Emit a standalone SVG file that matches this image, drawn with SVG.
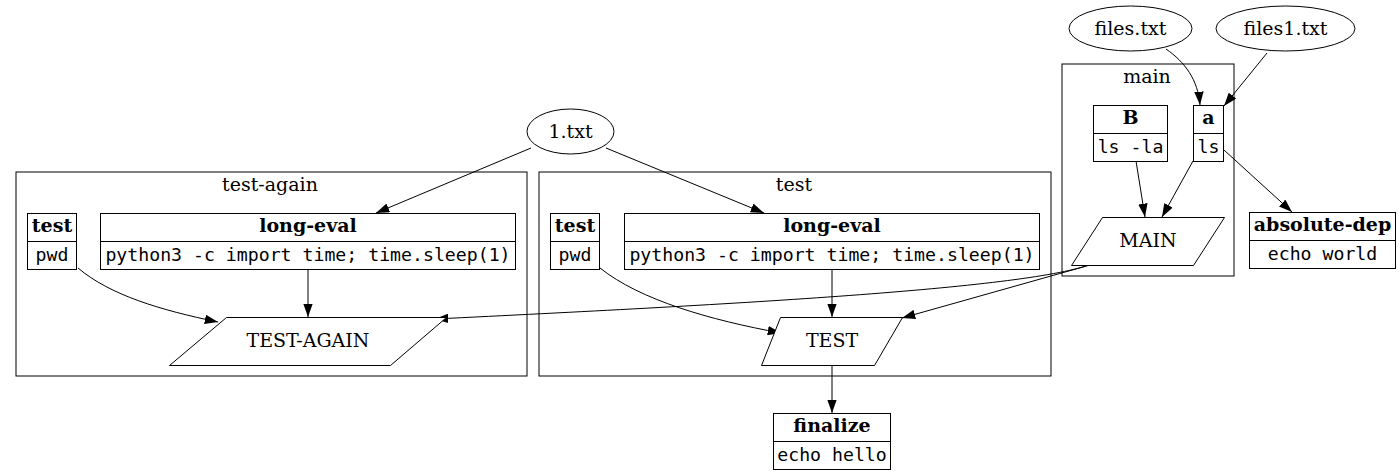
<svg xmlns="http://www.w3.org/2000/svg" width="1399" height="475" viewBox="0 0 1399 475">
<style>
.cl{fill:none;stroke:#000;stroke-width:1}
.nd{fill:#fff;stroke:#000;stroke-width:1}
.ln{fill:none;stroke:#000;stroke-width:1}
.e{fill:none;stroke:#000;stroke-width:1;marker-end:url(#ah)}
.s{font-family:"DejaVu Serif",serif;font-size:19px;text-anchor:middle;fill:#000}
.b{font-family:"DejaVu Serif",serif;font-size:19px;font-weight:bold;text-anchor:middle;fill:#000}
.m{font-family:"DejaVu Sans Mono",monospace;font-size:18.2px;text-anchor:middle;fill:#000}
</style>
<defs>
<marker id="ah" viewBox="0 0 13.3 9.4" refX="13.3" refY="4.7" markerWidth="13.3" markerHeight="9.4" markerUnits="userSpaceOnUse" orient="auto">
<path d="M0,0 L13.3,4.7 L0,9.4 Z" fill="#000"/>
</marker>
</defs>
<rect width="1399" height="475" fill="#fff"/>

<g id="cluster-test-again">
<rect class="cl" x="16" y="172" width="511" height="204"/>
<text class="s" x="270" y="191">test-again</text>
</g>
<g id="cluster-test">
<rect class="cl" x="539" y="172" width="512" height="204"/>
<text class="s" x="794" y="191">test</text>
</g>
<g id="cluster-main">
<rect class="cl" x="1062" y="64" width="172" height="212"/>
<text class="s" x="1147" y="83">main</text>
</g>

<g id="connectors">
<path class="e" d="M1166,49 C1185,62 1198,80 1200,105"/>
<path class="e" d="M1267,53 L1224,106"/>
<path class="e" d="M1136,161 L1145,217"/>
<path class="e" d="M1193,161 L1162,217"/>
<path class="e" d="M1224,150 L1292,212"/>
<path class="e" d="M1090,265 L902,318"/>
<path class="e" d="M1086,266 C1010,290 720,305 435,319"/>
<path class="e" d="M531,148 L376,213"/>
<path class="e" d="M606,148 L764,213"/>
<path class="e" d="M78,268 C110,295 160,310 218,322"/>
<path class="e" d="M308,269 L308,317"/>
<path class="e" d="M600,268 C640,300 710,320 781,333"/>
<path class="e" d="M832,269 L832,317"/>
<path class="e" d="M832,365 L832,413"/>
</g>

<g id="files-txt">
<ellipse class="nd" cx="1130.5" cy="28.5" rx="61.5" ry="22.5"/>
<text class="s" x="1130.5" y="35">files.txt</text>
</g>
<g id="files1-txt">
<ellipse class="nd" cx="1285.5" cy="28.5" rx="69.5" ry="22.5"/>
<text class="s" x="1285.5" y="35">files1.txt</text>
</g>
<g id="one-txt">
<ellipse class="nd" cx="570.5" cy="131.5" rx="43.5" ry="22.5"/>
<text class="s" x="570.5" y="138">1.txt</text>
</g>

<g id="main-B">
<rect class="nd" x="1093.5" y="105.5" width="74" height="56"/>
<line class="ln" x1="1093.5" y1="133.5" x2="1167.5" y2="133.5"/>
<text class="b" x="1130.5" y="124">B</text>
<text class="m" x="1130.5" y="153">ls -la</text>
</g>
<g id="main-a">
<rect class="nd" x="1193.5" y="105.5" width="30" height="56"/>
<line class="ln" x1="1193.5" y1="133.5" x2="1223.5" y2="133.5"/>
<text class="b" x="1208.5" y="124">a</text>
<text class="m" x="1208.5" y="153">ls</text>
</g>
<g id="MAIN">
<polygon class="nd" points="1102.5,217.5 1224.5,217.5 1193.5,265.5 1071.5,265.5"/>
<text class="s" x="1148" y="247">MAIN</text>
</g>
<g id="absolute-dep">
<rect class="nd" x="1249.5" y="212.5" width="146" height="56"/>
<line class="ln" x1="1249.5" y1="240.5" x2="1395.5" y2="240.5"/>
<text class="b" x="1322.5" y="231">absolute-dep</text>
<text class="m" x="1322.5" y="260">echo world</text>
</g>

<g id="test-again-test">
<rect class="nd" x="27.5" y="213.5" width="49" height="56"/>
<line class="ln" x1="27.5" y1="241.5" x2="76.5" y2="241.5"/>
<text class="b" x="52" y="232">test</text>
<text class="m" x="52" y="261">pwd</text>
</g>
<g id="test-again-long-eval">
<rect class="nd" x="100.5" y="213.5" width="415" height="56"/>
<line class="ln" x1="100.5" y1="241.5" x2="515.5" y2="241.5"/>
<text class="b" x="308" y="232">long-eval</text>
<text class="m" x="308" y="261">python3 -c import time; time.sleep(1)</text>
</g>
<g id="TEST-AGAIN">
<polygon class="nd" points="226.5,317.5 446.5,317.5 390.5,365.5 169.5,365.5"/>
<text class="s" x="308" y="347">TEST-AGAIN</text>
</g>

<g id="test-test">
<rect class="nd" x="550.5" y="213.5" width="49" height="56"/>
<line class="ln" x1="550.5" y1="241.5" x2="599.5" y2="241.5"/>
<text class="b" x="575" y="232">test</text>
<text class="m" x="575" y="261">pwd</text>
</g>
<g id="test-long-eval">
<rect class="nd" x="624.5" y="213.5" width="415" height="56"/>
<line class="ln" x1="624.5" y1="241.5" x2="1039.5" y2="241.5"/>
<text class="b" x="832" y="232">long-eval</text>
<text class="m" x="832" y="261">python3 -c import time; time.sleep(1)</text>
</g>
<g id="TEST">
<polygon class="nd" points="780.5,317.5 902.5,317.5 874.5,365.5 761.5,365.5"/>
<text class="s" x="832" y="347">TEST</text>
</g>

<g id="finalize">
<rect class="nd" x="773.5" y="413.5" width="117" height="56"/>
<line class="ln" x1="773.5" y1="441.5" x2="890.5" y2="441.5"/>
<text class="b" x="832" y="432">finalize</text>
<text class="m" x="832" y="461">echo hello</text>
</g>
</svg>
